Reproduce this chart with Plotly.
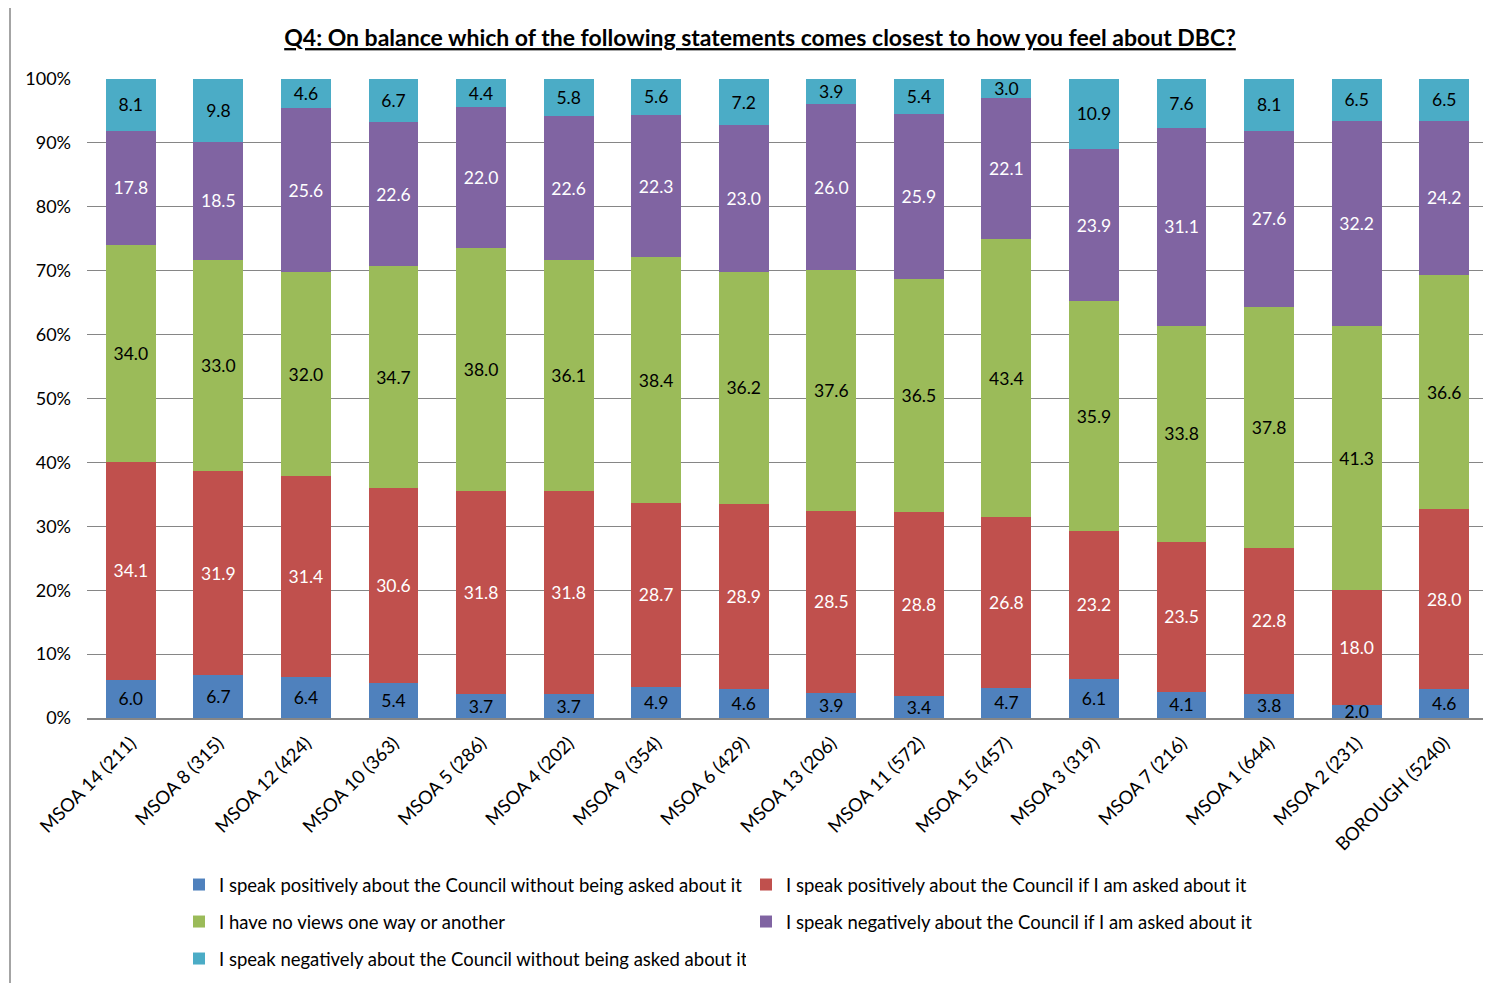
import plotly.graph_objects as go

categories = ["MSOA 14 (211)", "MSOA 8 (315)", "MSOA 12 (424)", "MSOA 10 (363)", "MSOA 5 (286)",
              "MSOA 4 (202)", "MSOA 9 (354)", "MSOA 6 (429)", "MSOA 13 (206)", "MSOA 11 (572)",
              "MSOA 15 (457)", "MSOA 3 (319)", "MSOA 7 (216)", "MSOA 1 (644)", "MSOA 2 (231)",
              "BOROUGH (5240)"]

pos_unasked = [6.0, 6.7, 6.4, 5.4, 3.7, 3.7, 4.9, 4.6, 3.9, 3.4, 4.7, 6.1, 4.1, 3.8, 2.0, 4.6]
pos_asked = [34.1, 31.9, 31.4, 30.6, 31.8, 31.8, 28.7, 28.9, 28.5, 28.8, 26.8, 23.2, 23.5, 22.8, 18.0, 28.0]
no_views = [34.0, 33.0, 32.0, 34.7, 38.0, 36.1, 38.4, 36.2, 37.6, 36.5, 43.4, 35.9, 33.8, 37.8, 41.3, 36.6]
neg_asked = [17.8, 18.5, 25.6, 22.6, 22.0, 22.6, 22.3, 23.0, 26.0, 25.9, 22.1, 23.9, 31.1, 27.6, 32.2, 24.2]
neg_unasked = [8.1, 9.8, 4.6, 6.7, 4.4, 5.8, 5.6, 7.2, 3.9, 5.4, 3.0, 10.9, 7.6, 8.1, 6.5, 6.5]

series_names = [
    "I speak positively about the Council without being asked about it",
    "I speak positively about the Council if I am asked about it",
    "I have no views one way or another",
    "I speak negatively about the Council if I am asked about it",
    "I speak negatively about the Council without being asked about it",
]
series_values = [pos_unasked, pos_asked, no_views, neg_asked, neg_unasked]
colors = ["#4F81BD", "#C0504D", "#9BBB59", "#8064A2", "#4BACC6"]
label_colors = ["#000000", "#FFFFFF", "#000000", "#FFFFFF", "#000000"]
legend_ids = ["legend", "legend", "legend2", "legend2", "legend3"]

FONT = "Lato"

fig = go.Figure()
for name, vals, col, lc, lg in zip(series_names, series_values, colors, label_colors, legend_ids):
    fig.add_trace(go.Bar(
        x=categories, y=vals, name=name, legend=lg,
        marker=dict(color=col, line=dict(width=0)),
        text=[f"{v:.1f}" for v in vals],
        textposition="inside", insidetextanchor="middle",
        textfont=dict(family=FONT, size=17.5, color=lc),
        constraintext="none",
        cliponaxis=False,
    ))

# page has 8px body margin; compensate
W, H = 1483, 975
ML, MR, MT, MB = 79, 3, 71, 265
PW, PH = W - ML - MR, H - MT - MB

def ly(ypage):
    return (H - MB - (ypage - 8)) / PH

leg_common = dict(orientation="h", x=(171 - ML) / PW, xanchor="left", yanchor="middle",
                  entrywidth=522, entrywidthmode="pixels", traceorder="normal",
                  font=dict(family=FONT, size=18.5), itemwidth=30, bgcolor="rgba(0,0,0,0)")

fig.update_layout(
    width=W, height=H,
    barmode="stack", barnorm="percent", bargap=0.43,
    plot_bgcolor="white", paper_bgcolor="white",
    margin=dict(l=ML, r=MR, t=MT, b=MB),
    font=dict(family=FONT, size=16, color="#000000"),
    uniformtext=dict(minsize=17, mode="show"),
    title=dict(
        text="<b><u>Q4: On balance which of the following statements comes closest to how you feel about DBC?</u></b>",
        x=(760 - 8) / W, xanchor="center", y=1 - 30 / H, yanchor="middle",
        font=dict(family=FONT, size=23, color="#000000"),
    ),
    xaxis=dict(
        tickangle=-45, showgrid=False, showline=True, linecolor="#868686", linewidth=2,
        tickfont=dict(family=FONT, size=18.5), ticks="", ticklabelstandoff=5,
    ),
    yaxis=dict(
        range=[0, 100.001], tickvals=[0, 10, 20, 30, 40, 50, 60, 70, 80, 90, 100],
        ticktext=["0%", "10%", "20%", "30%", "40%", "50%", "60%", "70%", "80%", "90%", "100%"],
        showgrid=True, gridcolor="#868686", gridwidth=1,
        zeroline=False, showline=False, tickfont=dict(family=FONT, size=18), ticklabelstandoff=15,
    ),
    legend=dict(leg_common, y=ly(885)),
    legend2=dict(leg_common, y=ly(922)),
    legend3=dict(leg_common, y=ly(959)),
    shapes=[dict(type="rect", xref="paper", yref="paper",
                 x0=(2 - ML) / PW, x1=1.05, y0=-0.5, y1=(H - MB + 1) / PH,
                 line=dict(color="#868686", width=1.5), fillcolor="rgba(0,0,0,0)", layer="below")],
)

fig.write_html("out.html")
